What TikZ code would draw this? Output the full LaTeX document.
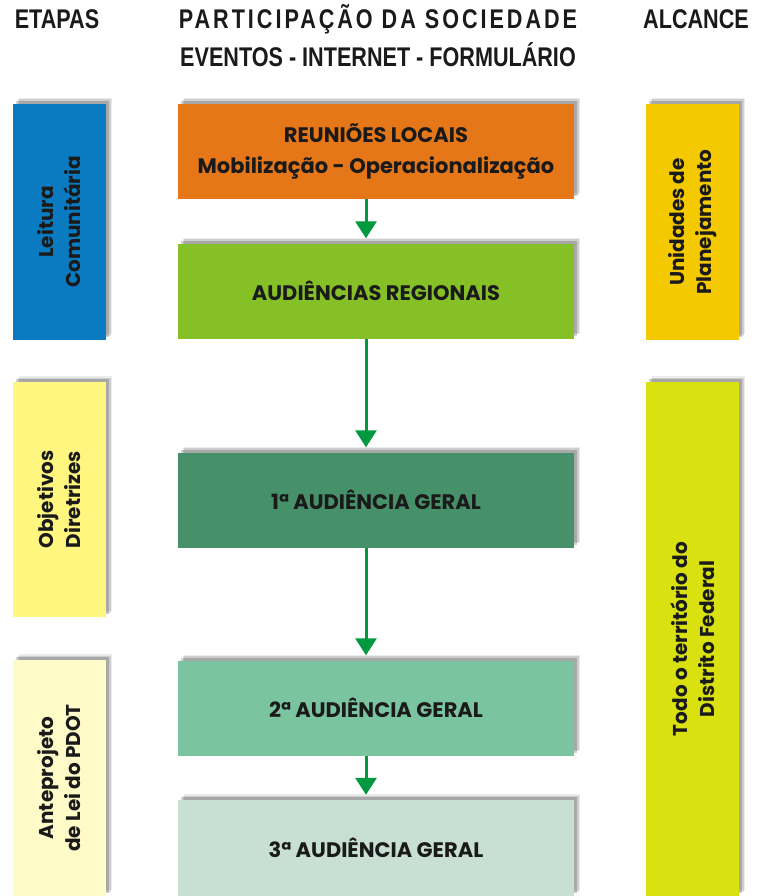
\documentclass[tikz,border=0pt]{standalone}
\usepackage{fontspec}
\setmainfont{Poppins}
\newfontfamily\hdr[FakeStretch=0.8]{Liberation Sans}
\newfontfamily\hdrsp[FakeStretch=0.8,LetterSpace=11]{Liberation Sans}
\usetikzlibrary{arrows.meta,shadows}
\definecolor{cblue}{HTML}{0A7BC1}
\definecolor{corange}{HTML}{E57719}
\definecolor{cgreenA}{HTML}{85C126}
\definecolor{cgreenB}{HTML}{46906A}
\definecolor{cgreenC}{HTML}{7AC59F}
\definecolor{cgreenD}{HTML}{C8E0D3}
\definecolor{cyellow}{HTML}{F5C900}
\definecolor{clime}{HTML}{D9E111}
\definecolor{cpaleY}{HTML}{FFF67F}
\definecolor{ccream}{HTML}{FFFBC9}
\definecolor{carrow}{HTML}{009940}
\definecolor{ctext}{HTML}{1A1A1A}
\begin{document}
\begin{tikzpicture}[x=1pt,y=-1pt,
  sbox/.style={draw=none, inner sep=0pt,
    drop shadow={shadow xshift=6pt, shadow yshift=6pt, opacity=0.08, fill=black},
    drop shadow={shadow xshift=4.5pt, shadow yshift=4.5pt, opacity=0.12, fill=black},
    drop shadow={shadow xshift=3pt, shadow yshift=3pt, opacity=0.18, fill=black}},
  cbox/.style={sbox, minimum width=396pt, minimum height=95pt, align=center,
    text=ctext, font=\fontsize{21}{31}\selectfont\bfseries},
  vbox/.style={sbox, minimum width=93pt},
  vtext/.style={rotate=90, align=center, text=ctext, inner sep=0pt,
    font=\fontsize{20}{27}\selectfont\bfseries},
  htext/.style={anchor=base, text=ctext, inner sep=0pt, font=\hdr\fontsize{27}{30}\selectfont\bfseries},
  arr/.style={draw=carrow, line width=3pt, -{Triangle[length=17pt,width=21pt]}, shorten >=5pt}]
\useasboundingbox (0,0) rectangle (768,896);
\fill[white] (0,0) rectangle (768,896);

% headers
\node[htext] (h1) at (57,29) {ETAPAS};
\node[htext, font=\hdrsp\fontsize{27}{30}\selectfont\bfseries] (h2) at (378,29) {PARTICIPAÇÃO DA SOCIEDADE};
\node[htext] (h3) at (378,67) {EVENTOS - INTERNET - FORMULÁRIO};
\node[htext] (h4) at (696,29) {ALCANCE};

% left column
\node[vbox, fill=cblue, minimum height=236pt] (lc) at (59.5,222) {};
\node[vtext] (lct) at (lc) {Leitura\\Comunitária};
\node[vbox, fill=cpaleY, minimum height=235pt] (od) at (59.5,499.5) {};
\node[vtext] (odt) at (od) {Objetivos\\Diretrizes};
\node[vbox, fill=ccream, minimum height=236pt] (ap) at (59.5,778) {};
\node[vtext] (apt) at (ap) {Anteprojeto\\de Lei do PDOT};

% right column
\node[vbox, fill=cyellow, minimum height=236pt] (up) at (692.5,222) {};
\node[vtext] (upt) at (up) {Unidades de\\Planejamento};
\node[vbox, fill=clime, minimum height=514pt] (tf) at (692.5,639) {};
\node[vtext] (tft) at (tf) {Todo o território do\\Distrito Federal};

% center column
\node[cbox, fill=corange] (ro) at (376,151.5) {REUNIÕES LOCAIS\\Mobilização - Operacionalização};
\node[cbox, fill=cgreenA] (ar) at (376,291) {AUDIÊNCIAS REGIONAIS};
\node[cbox, fill=cgreenB] (g1) at (376,500) {1ª AUDIÊNCIA GERAL};
\node[cbox, fill=cgreenC] (g2) at (376,708) {2ª AUDIÊNCIA GERAL};
\node[cbox, fill=cgreenD, minimum height=96pt] (g3) at (376,848) {3ª AUDIÊNCIA GERAL};

% arrows
\coordinate (ax) at (366,0);
\draw[arr] (ro.south -| ax) -- (ar.north -| ax);
\draw[arr] (ar.south -| ax) -- (g1.north -| ax);
\draw[arr] (g1.south -| ax) -- (g2.north -| ax);
\draw[arr] (g2.south -| ax) -- (g3.north -| ax);
\end{tikzpicture}
\end{document}
